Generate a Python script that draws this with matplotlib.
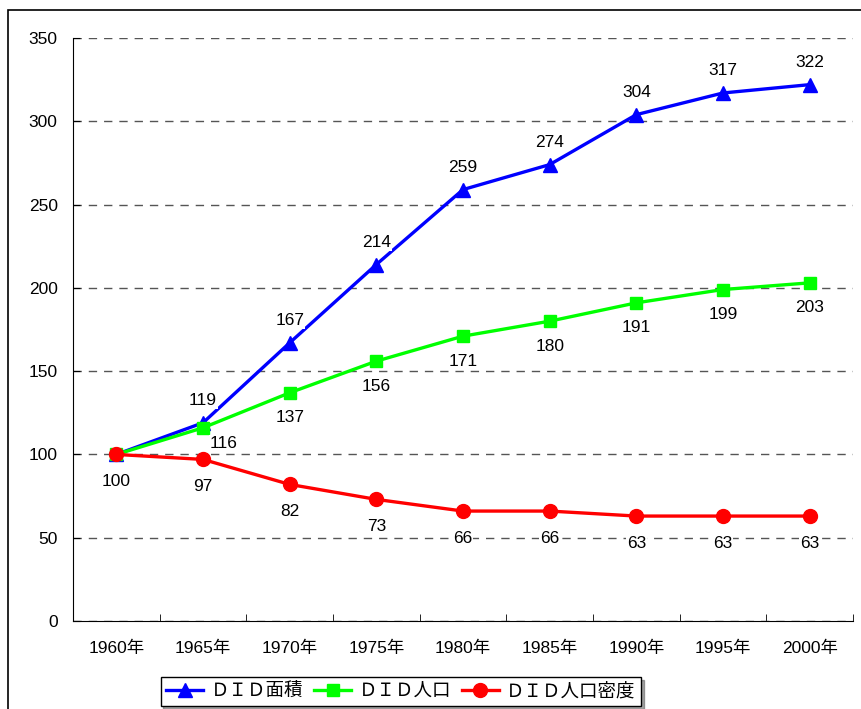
import numpy as np
import matplotlib.pyplot as plt
from matplotlib.patches import Rectangle

plt.rcParams['font.family'] = ['Liberation Sans', 'Noto Sans CJK JP']

years = ['1960年', '1965年', '1970年', '1975年', '1980年', '1985年', '1990年', '1995年', '2000年']
area = [100, 119, 167, 214, 259, 274, 304, 317, 322]
population = [100, 116, 137, 156, 171, 180, 191, 199, 203]
density = [100, 97, 82, 73, 66, 66, 63, 63, 63]

fig = plt.figure(figsize=(8.61, 7.09), dpi=100)
ax = fig.add_axes([73 / 861, 88 / 709, 780 / 861, 583 / 709])

# outer frame around the whole chart
fig.patches.append(Rectangle((8 / 861, -0.1), 1.2, 1.1 - 10 / 709,
                             transform=fig.transFigure, fill=False,
                             edgecolor='black', linewidth=1.2))

x = np.arange(len(years))
ax.plot(x, area, color='#0000ff', marker='^', markersize=10, linewidth=2.4,
        label='ＤＩＤ面積', zorder=4)
ax.plot(x, population, color='#00ff00', marker='s', markersize=8, linewidth=2.4,
        label='ＤＩＤ人口', zorder=4)
ax.plot(x, density, color='#ff0000', marker='o', markersize=10, linewidth=2.4,
        label='ＤＩＤ人口密度', zorder=4)

fs = 12.5
box = dict(facecolor='white', edgecolor='none', pad=0.5)
for i in range(len(x)):
    if i > 0:
        ax.annotate(str(area[i]), (x[i], area[i]), xytext=(0, 16), textcoords='offset points',
                    ha='center', va='center', fontsize=fs, bbox=box, zorder=5)
        # the 1965 population label sits to the right so it clears the red line
        off = (15, -11) if i == 1 else (0, -18)
        ax.annotate(str(population[i]), (x[i], population[i]), xytext=off,
                    textcoords='offset points', ha='center', va='center', fontsize=fs,
                    bbox=box, zorder=5)
    ax.annotate(str(density[i]), (x[i], density[i]), xytext=(0, -19.5), textcoords='offset points',
                ha='center', va='center', fontsize=fs, bbox=box, zorder=5)

ax.set_xlim(-0.5, len(years) - 0.5)
ax.set_ylim(0, 350)
ax.set_yticks(np.arange(0, 351, 50))
ax.set_xticks(x)
ax.set_xticklabels(years)
ax.set_xticks(np.arange(-0.5, len(years), 1), minor=True)
ax.tick_params(axis='x', which='major', length=0, pad=14, labelsize=fs)
ax.tick_params(axis='x', which='minor', direction='in', length=5)
ax.tick_params(axis='y', direction='in', length=5, pad=11, labelsize=fs)

ax.grid(axis='y', color='#555555', linestyle=(0, (6, 5)), linewidth=1)
ax.set_axisbelow(True)
for side in ['top', 'right']:
    ax.spines[side].set_visible(False)

leg = fig.legend(loc='center', bbox_to_anchor=(401 / 861, 17.5 / 709), ncol=3, fontsize=13.3,
                 frameon=True, fancybox=False, shadow=True, handlelength=2.0,
                 columnspacing=0.6, handletextpad=0.4, borderpad=0.3, borderaxespad=0)
leg.get_frame().set_edgecolor('black')
leg.get_frame().set_linewidth(1)

fig.savefig('out.png', dpi=100)
